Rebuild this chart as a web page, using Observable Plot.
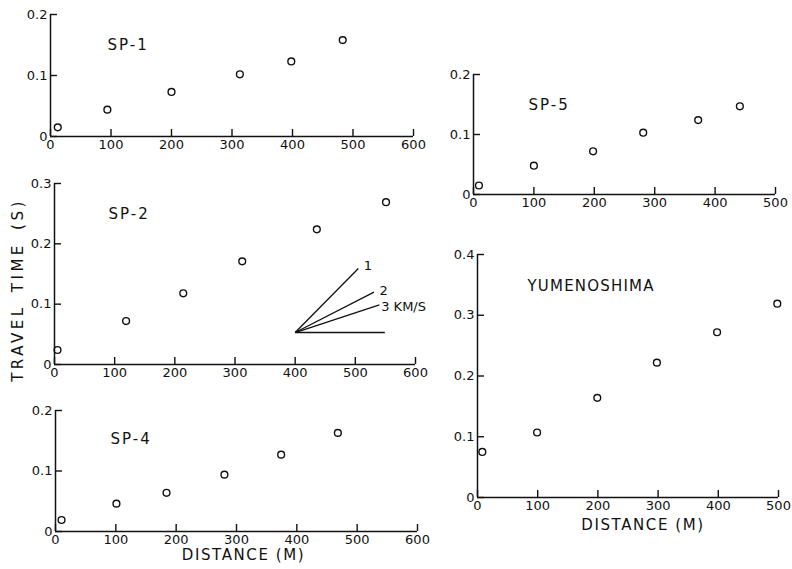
<!DOCTYPE html>
<html>
<head>
<meta charset="utf-8">
<script src="https://cdn.jsdelivr.net/npm/d3@7"></script>
<script src="https://cdn.jsdelivr.net/npm/@observablehq/plot@0.6"></script>
<style>
  body { margin: 0; background: #fff; }
  #chart { position: relative; width: 792px; height: 569px; font-family: "DejaVu Sans", sans-serif; color: #111; overflow: hidden; }
  .panel { position: absolute; }
  #ylabel { position: absolute; left: 18px; top: 290px; transform: translate(-50%, -50%) rotate(-90deg); white-space: nowrap; font-size: 15px; letter-spacing: 3.5px; word-spacing: 4px; }
</style>
</head>
<body>
<div id="chart"><div id="ylabel">TRAVEL TIME (S)</div></div>
<script>
// ---- data ----
const sp1Dist = [12, 94, 200, 313, 398, 483];
const sp1Time = [0.015, 0.044, 0.073, 0.102, 0.123, 0.158];
const sp2Dist = [5, 119, 214, 312, 436, 551];
const sp2Time = [0.024, 0.072, 0.118, 0.171, 0.224, 0.269];
const sp4Dist = [10, 101, 184, 280, 374, 468];
const sp4Time = [0.019, 0.046, 0.064, 0.094, 0.127, 0.163];
const sp5Dist = [9, 100, 198, 281, 372, 441];
const sp5Time = [0.015, 0.048, 0.072, 0.103, 0.124, 0.147];
const yumeDist = [8, 99, 199, 298, 398, 498];
const yumeTime = [0.075, 0.107, 0.164, 0.222, 0.272, 0.319];

const xTicks600 = [0, 100, 200, 300, 400, 500, 600];
const xTicks500 = [0, 100, 200, 300, 400, 500];
const yTicks02 = [0, 0.1, 0.2];
const yTicks03 = [0, 0.1, 0.2, 0.3];
const yTicks04 = [0, 0.1, 0.2, 0.3, 0.4];

const titles = ["SP-1", "SP-2", "SP-4", "SP-5", "YUMENOSHIMA"];
const xAxisTitle = "DISTANCE (M)";

// velocity reference fan in SP-2 (1, 2, 3 km/s and horizontal)
const fanOriginDist = 400;
const fanOriginTime = 0.053;
const fanEndDist = [505, 531, 540, 549];
const fanEndTime = [0.159, 0.120, 0.099, 0.053];
const fanLabels = ["1", "2", "3 KM/S"];
const fanLabelDist = [521, 547, 543];
const fanLabelTime = [0.164, 0.1225, 0.096];

// ---- layout ----
const panels = [
  {title: titles[0], dist: sp1Dist, time: sp1Time, xTicks: xTicks600, yTicks: yTicks02,
   left: 0, top: 0, width: 440, height: 160, mL: 50, mR: 27, mT: 14, mB: 24, tdx: 57, tdy: 30.5},
  {title: titles[1], dist: sp2Dist, time: sp2Time, xTicks: xTicks600, yTicks: yTicks03,
   left: 0, top: 165, width: 440, height: 215, mL: 54, mR: 25, mT: 18, mB: 16, tdx: 54, tdy: 31, fan: true},
  {title: titles[2], dist: sp4Dist, time: sp4Time, xTicks: xTicks600, yTicks: yTicks02,
   left: 0, top: 395, width: 440, height: 174, mL: 55, mR: 23, mT: 15, mB: 38, tdx: 55, tdy: 29,
   xLabel: true, ldx: 7, ldy: 24},
  {title: titles[3], dist: sp5Dist, time: sp5Time, xTicks: xTicks500, yTicks: yTicks02,
   left: 420, top: 60, width: 372, height: 160, mL: 53, mR: 17, mT: 14, mB: 26, tdx: 55, tdy: 31},
  {title: titles[4], dist: yumeDist, time: yumeTime, xTicks: xTicks500, yTicks: yTicks04,
   left: 420, top: 240, width: 372, height: 329, mL: 57, mR: 14, mT: 14, mB: 72, tdx: 50, tdy: 31.5,
   xLabel: true, ldx: 15, ldy: 28}
];

const chart = document.getElementById("chart");
const fmtY = d => d === 0 ? "0" : d3.format(".1f")(d);
const fmtX = d => d3.format("d")(d);

for (const p of panels) {
  const idx = d3.range(p.dist.length);
  const fw = p.width - p.mL - p.mR;
  const fh = p.height - p.mT - p.mB;
  const marks = [
    Plot.ruleY([p.yTicks[0]], {stroke: "#111", strokeWidth: 1.5}),
    Plot.ruleX([p.xTicks[0]], {stroke: "#111", strokeWidth: 1.5}),
    Plot.tickX(p.xTicks, {x: d => d, insetTop: fh - 7, stroke: "#111", strokeWidth: 1.4}),
    Plot.tickY(p.yTicks, {y: d => d, insetRight: fw - 7, stroke: "#111", strokeWidth: 1.4}),
    Plot.axisX(p.xTicks, {tickSize: 0, tickPadding: 3, label: null, tickFormat: fmtX}),
    Plot.axisY(p.yTicks, {tickSize: 0, tickPadding: 3, label: null, tickFormat: fmtY}),
    Plot.dot(idx, {x: i => p.dist[i], y: i => p.time[i], r: 3.4, stroke: "#111", strokeWidth: 1.4, fill: "none"}),
    Plot.text([p.title], {frameAnchor: "top-left", dx: p.tdx, dy: p.tdy, text: d => d,
      textAnchor: "start", lineAnchor: "middle", fontSize: 15})
  ];
  if (p.fan) {
    const fi = d3.range(fanEndDist.length);
    marks.push(Plot.link(fi, {x1: () => fanOriginDist, y1: () => fanOriginTime,
      x2: i => fanEndDist[i], y2: i => fanEndTime[i], stroke: "#111", strokeWidth: 1.3}));
    marks.push(Plot.text([0, 1], {x: i => fanLabelDist[i], y: i => fanLabelTime[i], text: i => fanLabels[i],
      textAnchor: "middle", lineAnchor: "middle", fontSize: 13}));
    marks.push(Plot.text([2], {x: i => fanLabelDist[i], y: i => fanLabelTime[i], text: i => fanLabels[i],
      textAnchor: "start", lineAnchor: "middle", fontSize: 13}));
  }
  if (p.xLabel) {
    marks.push(Plot.text([xAxisTitle], {frameAnchor: "bottom", dx: p.ldx, dy: p.ldy, text: d => d,
      lineAnchor: "middle", fontSize: 15}));
  }
  const svg = Plot.plot({
    width: p.width, height: p.height,
    marginLeft: p.mL, marginRight: p.mR, marginTop: p.mT, marginBottom: p.mB,
    x: {domain: [p.xTicks[0], p.xTicks[p.xTicks.length - 1]]},
    y: {domain: [p.yTicks[0], p.yTicks[p.yTicks.length - 1]]},
    style: {fontFamily: "DejaVu Sans, sans-serif", fontSize: "13px", color: "#111", background: "transparent", overflow: "visible"},
    marks
  });
  d3.select(svg).selectAll("text").filter(function() { return this.textContent === p.title; })
    .attr("letter-spacing", p.title.length > 6 ? "1.2px" : "2px");
  d3.select(svg).selectAll("text").filter(function() { return this.textContent === xAxisTitle; })
    .attr("letter-spacing", "1.6px");
  const div = document.createElement("div");
  div.className = "panel";
  div.style.left = p.left + "px";
  div.style.top = p.top + "px";
  div.appendChild(svg);
  chart.appendChild(div);
}
</script>
</body>
</html>
